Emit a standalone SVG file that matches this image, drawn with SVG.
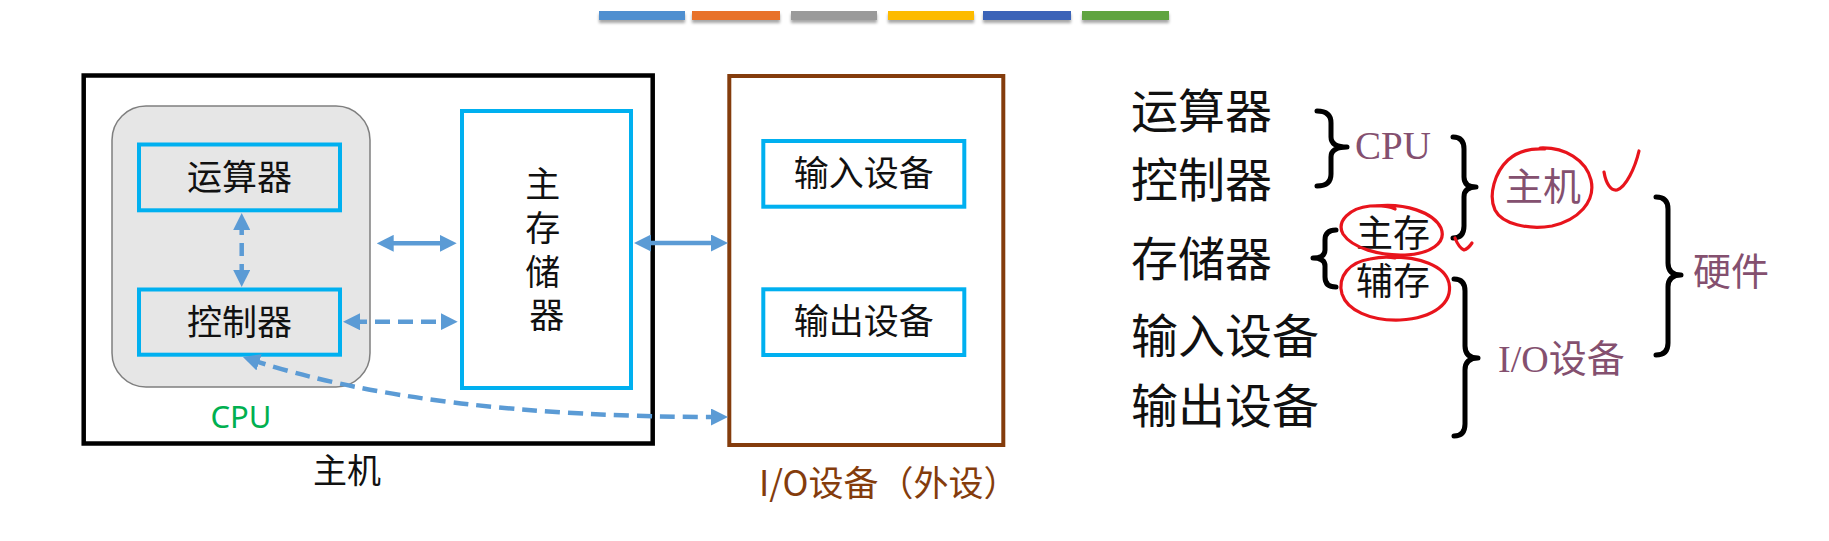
<svg xmlns="http://www.w3.org/2000/svg" width="1829" height="541" viewBox="0 0 1829 541">
<style>
.cj{font-family:"Noto Sans CJK SC","Noto Sans",sans-serif;fill:#111;}
.box{fill:none;stroke:#00b0f0;stroke-width:4;}
.conn{fill:none;stroke:#5b9bd5;stroke-width:4.5;}
.dash{stroke-dasharray:15 8;}
.brace{fill:none;stroke:#000;stroke-width:5;stroke-linecap:round;stroke-linejoin:round;}
.ink{fill:none;stroke:#e8141c;stroke-width:3.2;stroke-linecap:round;stroke-linejoin:round;}
.pur{fill:#84506f;}
</style>
<defs>
<marker id="ah" viewBox="0 0 17 17" refX="8" refY="8.5" markerWidth="17" markerHeight="17" markerUnits="userSpaceOnUse" orient="auto-start-reverse">
<path d="M0,0 L17,8.5 L0,17 z" fill="#5b9bd5"/>
</marker>
<filter id="sh" x="-10%" y="-50%" width="120%" height="250%">
<feDropShadow dx="0" dy="3" stdDeviation="1.5" flood-color="#000" flood-opacity="0.35"/>
</filter>
</defs>
<rect width="1829" height="541" fill="#fff"/>

<g id="colorbar" filter="url(#sh)">
<rect x="599" y="11" width="86" height="9" fill="#4f8fd0"/>
<rect x="692" y="11" width="88" height="9" fill="#e8722c"/>
<rect x="791" y="11" width="86" height="9" fill="#9a9a9a"/>
<rect x="888" y="11" width="86" height="9" fill="#fdbb00"/>
<rect x="983" y="11" width="88" height="9" fill="#3a63b8"/>
<rect x="1082" y="11" width="87" height="9" fill="#61a43f"/>
</g>

<g id="host">
<rect x="83.7" y="75.5" width="569" height="368" fill="none" stroke="#000" stroke-width="4.5"/>
<text x="347" y="483" class="cj" font-size="34" text-anchor="middle">主机</text>
</g>

<g id="cpu">
<rect x="112" y="106" width="258" height="281" rx="34" fill="#e6e6e6" stroke="#7f7f7f" stroke-width="1.5"/>
<text x="241" y="428" font-family="'Noto Sans',sans-serif" font-size="31" fill="#00b050" text-anchor="middle">CPU</text>
</g>

<g id="alu">
<rect x="139" y="144.5" width="201" height="65.8" class="box"/>
<text x="239.5" y="190" class="cj" font-size="35" text-anchor="middle">运算器</text>
</g>

<g id="cu">
<rect x="139" y="289.5" width="201" height="65.2" class="box"/>
<text x="239.5" y="334.5" class="cj" font-size="35" text-anchor="middle">控制器</text>
</g>

<g id="mem">
<rect x="462" y="111" width="169" height="277" fill="#fff" class="box"/>
<text class="cj" font-size="35" text-anchor="middle">
<tspan x="546.7" y="197">主</tspan>
<tspan x="546.7" y="240.7">存</tspan>
<tspan x="546.7" y="284.5">储</tspan>
<tspan x="546.7" y="328.2">器</tspan>
</text>
</g>

<g id="io">
<rect x="729.3" y="76" width="274" height="369" fill="none" stroke="#843c0c" stroke-width="4"/>
<text x="759" y="496" font-family="'Noto Sans CJK SC',sans-serif" font-size="35" fill="#843c0c">I/O设备（外设）</text>
</g>

<g id="input">
<rect x="763.3" y="141" width="201" height="65.7" class="box"/>
<text x="863.8" y="186" class="cj" font-size="35" text-anchor="middle">输入设备</text>
</g>

<g id="output">
<rect x="763.3" y="289.3" width="201" height="65.7" class="box"/>
<text x="863.8" y="334" class="cj" font-size="35" text-anchor="middle">输出设备</text>
</g>

<g id="connectors">
<line x1="241.7" y1="222" x2="241.7" y2="278" class="conn" stroke-dasharray="13 8" marker-start="url(#ah)" marker-end="url(#ah)"/>
<line x1="385.7" y1="243.3" x2="447.7" y2="243.3" class="conn" marker-start="url(#ah)" marker-end="url(#ah)"/>
<line x1="352" y1="321.7" x2="448.7" y2="321.7" class="conn dash" marker-start="url(#ah)" marker-end="url(#ah)"/>
<line x1="643" y1="243" x2="719" y2="243" class="conn" marker-start="url(#ah)" marker-end="url(#ah)"/>
<path d="M251.5,359.8 Q425,417 719,417" class="conn dash" marker-start="url(#ah)" marker-end="url(#ah)"/>
</g>

<g id="list">
<text class="cj" font-size="47">
<tspan x="1131" y="128">运算器</tspan>
<tspan x="1131" y="197">控制器</tspan>
<tspan x="1131" y="276">存储器</tspan>
<tspan x="1131" y="353">输入设备</tspan>
<tspan x="1131" y="423">输出设备</tspan>
</text>
</g>

<g id="brace-cpu">
<path class="brace" d="M1317,111 Q1331,111 1331,123 L1331,137 Q1331,147 1347,147 Q1331,147 1331,157 L1331,174 Q1331,186 1317,186"/>
<text x="1355" y="159" font-family="'Liberation Serif',serif" font-size="39" class="pur">CPU</text>
</g>

<g id="brace-host">
<path class="brace" d="M1453,137 Q1464,137 1464,149 L1464,177 Q1464,187 1476,187 Q1464,187 1464,197 L1464,226 Q1464,238 1453,238"/>
<text x="1505" y="200" class="cj pur" font-size="38" style="fill:#84506f">主机</text>
<path class="ink" d="M1540,148 C1565,147 1586,160 1591,180 C1596,202 1578,220 1552,226 C1528,230 1502,224 1495,210 C1488,195 1495,172 1508,160 C1518,151 1530,148 1545,149"/>
<path class="ink" d="M1604,172 C1606,184 1611,191 1617,190 C1626,187 1635,168 1639,151"/>
</g>

<g id="brace-mem">
<path class="brace" d="M1336,230 Q1325,230 1325,240 L1325,250 Q1325,258 1313,258 Q1325,258 1325,266 L1325,277 Q1325,287 1336,287"/>
<text x="1356" y="247" class="cj" font-size="37">主存</text>
<text x="1356" y="295" class="cj" font-size="37">辅存</text>
<path class="ink" d="M1376,206 C1405,203 1433,212 1441,228 C1447,243 1430,254 1405,255 C1380,256 1352,248 1343,234 C1336,221 1350,208 1370,206 C1382,205 1392,207 1395,209"/>
<path class="ink" d="M1385,257 C1420,256 1445,266 1449,283 C1453,303 1434,318 1400,320 C1370,321 1347,310 1342,294 C1337,276 1350,262 1370,259 C1380,257 1390,257 1395,258"/>
<path class="ink" d="M1455,238 Q1459,248 1464,250 Q1468,249 1472,243"/>
</g>

<g id="brace-io">
<path class="brace" d="M1454,279 Q1465,279 1465,291 L1465,346 Q1465,358 1478,358 Q1465,358 1465,370 L1465,424 Q1465,436 1454,436"/>
<text x="1498" y="372" font-family="'Liberation Serif','Noto Sans CJK SC',serif" font-size="38" class="pur">I/O设备</text>
</g>

<g id="brace-hw">
<path class="brace" d="M1656,197 Q1668,197 1668,209 L1668,263 Q1668,275 1681,275 Q1668,275 1668,287 L1668,343 Q1668,355 1656,355"/>
<text x="1693" y="285" class="cj pur" font-size="38" style="fill:#84506f">硬件</text>
</g>
</svg>
